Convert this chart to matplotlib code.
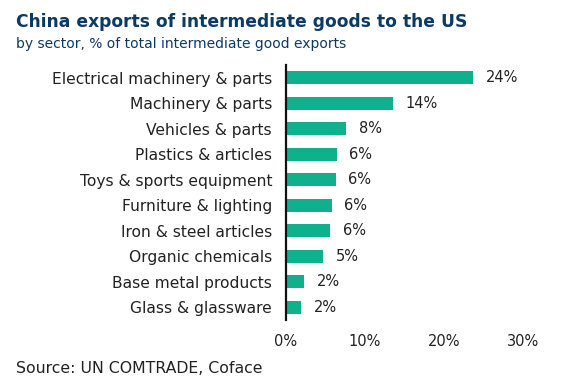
import matplotlib
matplotlib.use('Agg')
import matplotlib.pyplot as plt
from matplotlib.ticker import FuncFormatter

sectors = ['Electrical machinery & parts', 'Machinery & parts', 'Vehicles & parts',
           'Plastics & articles', 'Toys & sports equipment', 'Furniture & lighting',
           'Iron & steel articles', 'Organic chemicals', 'Base metal products',
           'Glass & glassware']
shares = [23.7, 13.5, 7.6, 6.4, 6.3, 5.8, 5.6, 4.7, 2.3, 1.9]
labels = ['24%', '14%', '8%', '6%', '6%', '6%', '6%', '5%', '2%', '2%']
xticks = [0, 10, 20, 30]

plt.rcParams['font.family'] = ['DejaVu Sans']

fig = plt.figure(figsize=(5.8, 3.89), dpi=100)
ax = fig.add_axes([0.493, 0.177, 0.409, 0.656])

pos = list(range(len(sectors)))
ax.barh(pos, shares, height=0.5, color='#0fb08c')
for y, v, t in zip(pos, shares, labels):
    ax.text(v + 1.6, y, t, va='center', ha='left', fontsize=10.5, color='#222222')

ax.set_ylim(9.5, -0.5)
ax.set_xlim(0, 30)
ax.set_yticks(pos)
ax.set_yticklabels(sectors, fontsize=11.2, color='#222222')
ax.set_xticks(xticks)
ax.xaxis.set_major_formatter(FuncFormatter(lambda v, p: '%d%%' % v))
ax.tick_params(axis='x', length=0, pad=10, labelsize=10.5, labelcolor='#222222')
ax.tick_params(axis='y', length=0, pad=10)
for s in ['top', 'right', 'bottom']:
    ax.spines[s].set_visible(False)
ax.spines['left'].set_linewidth(1.6)
ax.spines['left'].set_color('#111111')

fig.text(0.028, 0.93, 'China exports of intermediate goods to the US', fontsize=12.3,
         fontweight='bold', color='#0d3a63', va='baseline')
fig.text(0.028, 0.877, 'by sector, % of total intermediate good exports', fontsize=10.0,
         color='#0d3a63', va='baseline')
fig.text(0.028, 0.04, 'Source: UN COMTRADE, Coface', fontsize=11.3, color='#222222',
         va='baseline')

fig.savefig('out.png', dpi=100)
